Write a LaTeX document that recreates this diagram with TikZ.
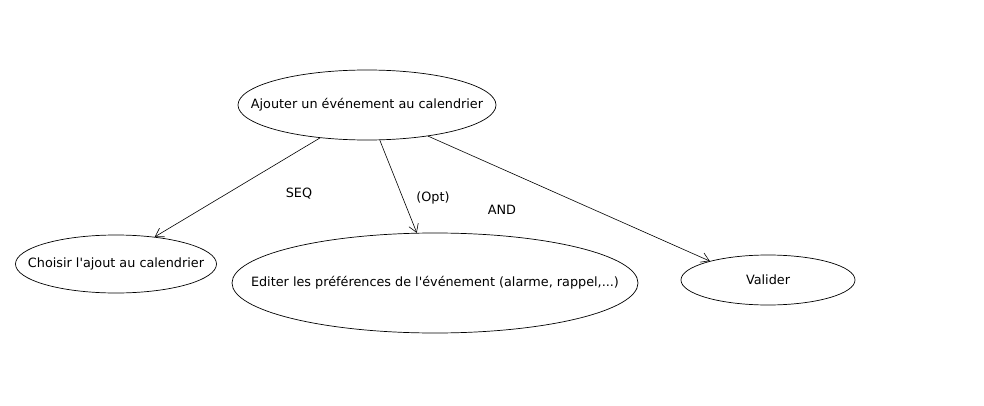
\documentclass[tikz,border=0pt]{standalone}
\usepackage{fontspec}
\setmainfont{DejaVu Sans}[Ligatures=TeXOff]
\usetikzlibrary{arrows.meta,shapes.geometric}
\newcommand{\uctext}[1]{\makebox[0pt]{#1}}
\tikzset{
  ucase/.style={ellipse, draw=black, line width=0.7pt, inner sep=0pt,
                font=\fontsize{12.8}{14}\selectfont},
  ucarrow/.style={-{Straight Barb[length=8pt,width=10pt]}, line width=0.6pt, black},
  ucop/.style={font=\fontsize{12.8}{14}\selectfont, inner sep=0pt},
}

\begin{document}
\begin{tikzpicture}[x=1pt,y=-1pt]
  \useasboundingbox (0,0) rectangle (984,406);
  % ---- use cases ----------------------------------------------------------
  \node[ucase, minimum width=258pt, minimum height=70pt]  (ajout)   at (367,105) {\uctext{Ajouter un événement au calendrier}};
  \node[ucase, minimum width=201pt, minimum height=58pt]  (choisir) at (116,264) {\uctext{Choisir l'ajout au calendrier}};
  \node[ucase, minimum width=406pt, minimum height=100pt] (editer)  at (435,283) {\uctext{Editer les préférences de l'événement (alarme, rappel,...)}};
  \node[ucase, minimum width=174pt, minimum height=50pt]  (valider) at (768,280) {\uctext{Valider}};

  % ---- decomposition --------------------------------------------------------
  \draw[ucarrow] (ajout.215) -- (choisir.35);
  \draw[ucarrow] (ajout.290) -- (editer.110);
  \draw[ucarrow] (ajout.333) -- (valider.162);

  \node[ucop] (seq) at (299,194) {SEQ};
  \node[ucop] (opt) at (433,198) {(Opt)};
  \node[ucop] (and) at (502,210) {AND};
\end{tikzpicture}
\end{document}
